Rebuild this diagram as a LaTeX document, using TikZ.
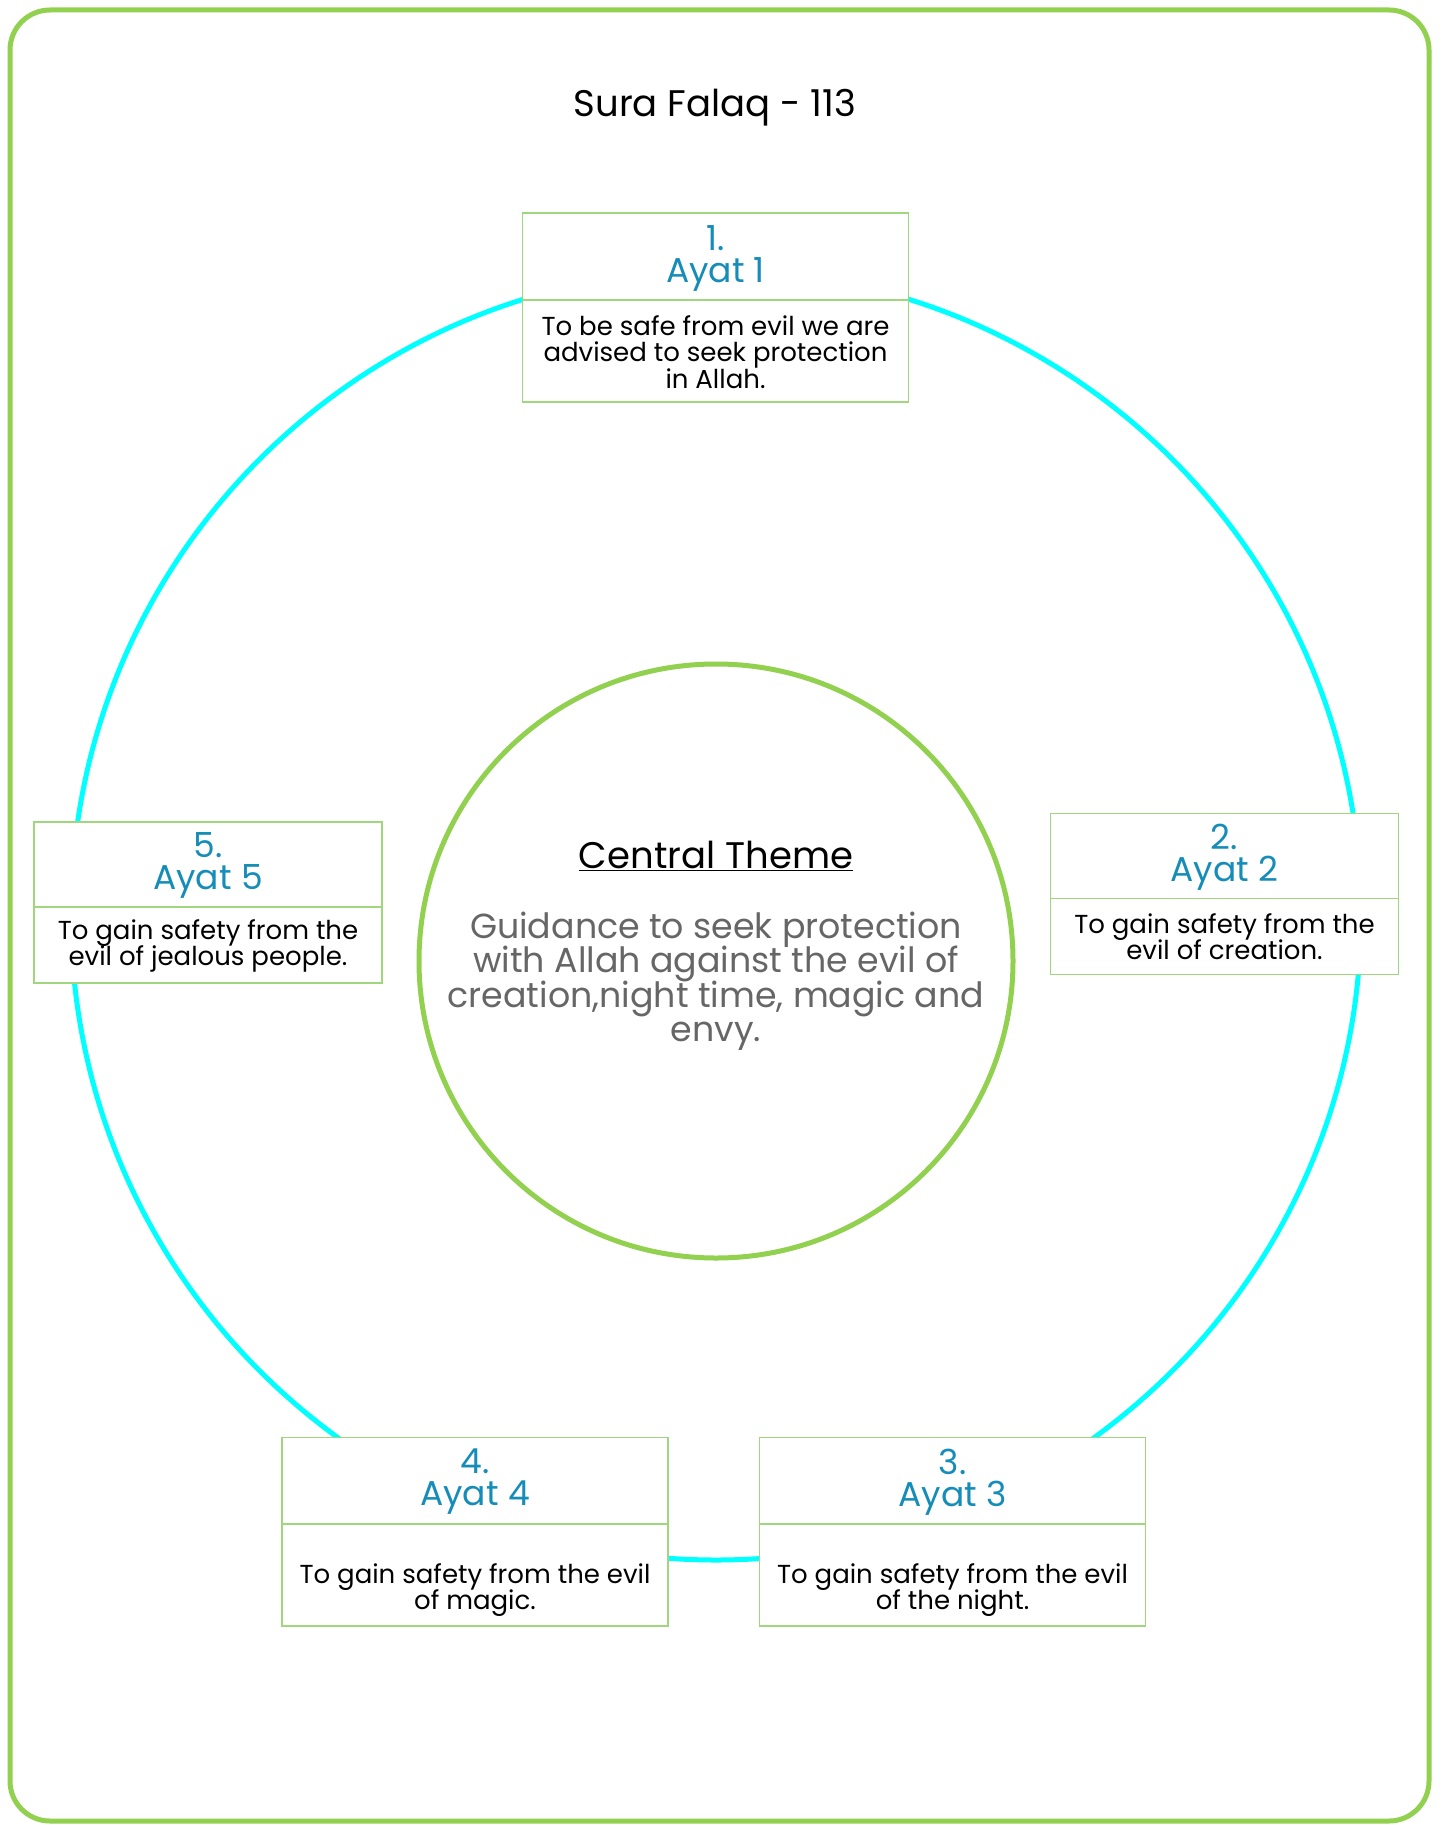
\documentclass[tikz,border=0pt]{standalone}
\usepackage{fontspec}
\setmainfont{Poppins}
\usepackage{xcolor}
\definecolor{frameGreen}{RGB}{146,208,80}
\definecolor{boxGreen}{RGB}{160,214,125}
\definecolor{ayatBlue}{RGB}{22,141,185}
\definecolor{ringCyan}{RGB}{0,255,255}
\definecolor{themeGray}{RGB}{102,102,102}
\newcommand\tightlines{\lineskiplimit=-100pt\relax\lineskip=0pt\relax}
\tikzset{
  frame/.style={draw=frameGreen, line width=5pt, rounded corners=40pt},
  ring/.style={draw=ringCyan, line width=5pt},
  core/.style={draw=frameGreen, line width=5pt, fill=white},
  boxpart/.style={draw=boxGreen, line width=1.5pt, fill=white, inner sep=0pt},
  wideboxtop/.style={boxpart, minimum width=386pt, minimum height=87pt},
  wideboxbot/.style={boxpart, minimum width=386pt, minimum height=102pt},
  sideboxtop/.style={boxpart, minimum width=348pt, minimum height=85pt},
  sideboxbot/.style={boxpart, minimum width=348pt, minimum height=76pt},
  ayattext/.style={align=center, inner sep=0pt, text=ayatBlue, font=\fontsize{34.5}{32}\selectfont\tightlines},
  bodytext/.style={align=center, inner sep=0pt, text=black, font=\fontsize{26}{26.3}\selectfont\tightlines},
}
\begin{document}
\begin{tikzpicture}[x=1pt, y=-1pt]
\useasboundingbox (0,0) rectangle (1441,1825);
\fill[white] (0,0) rectangle (1441,1825);
\draw[frame] (10,10) rectangle (1429,1821);
\node[anchor=base, inner sep=0pt, font=\fontsize{37}{40}\selectfont] (title) at (715,117) {Sura Falaq - 113};

% outer ring
\draw[ring] (716,915) circle[radius=645pt];
% central circle
\node[core, circle, minimum size=594pt, inner sep=0pt] (core) at (716,961) {};
\node[anchor=base, inner sep=0pt, font=\fontsize{37}{40}\selectfont] (ctitle) at (716,868) {\underline{Central Theme}};
\node[align=center, inner sep=0pt, text=themeGray, font=\fontsize{34.8}{34.5}\selectfont\tightlines] (ctext) at (716,981)
  {Guidance to seek protection\\with Allah against the evil of\\creation,night time, magic and\\envy.};

% box 1
\node[wideboxtop] (b1t) at (715.5,256.5) {};
\node[wideboxbot] (b1b) at (715.5,351) {};
\node[ayattext] (t1a) at (715.5,258) {1.\\Ayat 1};
\node[bodytext] (t1b) at (715.5,352) {To be safe from evil we are\\advised to seek protection\\in Allah.};

% box 2
\node[sideboxtop] (b2t) at (1224.5,856) {};
\node[sideboxbot] (b2b) at (1224.5,936.5) {};
\node[ayattext] (t2a) at (1224.5,857) {2.\\Ayat 2};
\node[bodytext] (t2b) at (1224.5,937) {To gain safety from the\\evil of creation.};

% box 5
\node[sideboxtop] (b5t) at (208,864.5) {};
\node[sideboxbot] (b5b) at (208,945) {};
\node[ayattext] (t5a) at (208,865) {5.\\Ayat 5};
\node[bodytext] (t5b) at (208,946) {To gain safety from the\\evil of jealous people.};

% box 4
\node[wideboxtop] (b4t) at (475,1481) {};
\node[wideboxbot] (b4b) at (475,1575) {};
\node[ayattext] (t4a) at (475,1482) {4.\\Ayat 4};
\node[bodytext] (t4b) at (475,1590) {To gain safety from the evil\\of magic.};

% box 3
\node[wideboxtop] (b3t) at (952.5,1481) {};
\node[wideboxbot] (b3b) at (952.5,1575) {};
\node[ayattext] (t3a) at (952.5,1482) {3.\\Ayat 3};
\node[bodytext] (t3b) at (952.5,1590) {To gain safety from the evil\\of the night.};
\end{tikzpicture}
\end{document}
